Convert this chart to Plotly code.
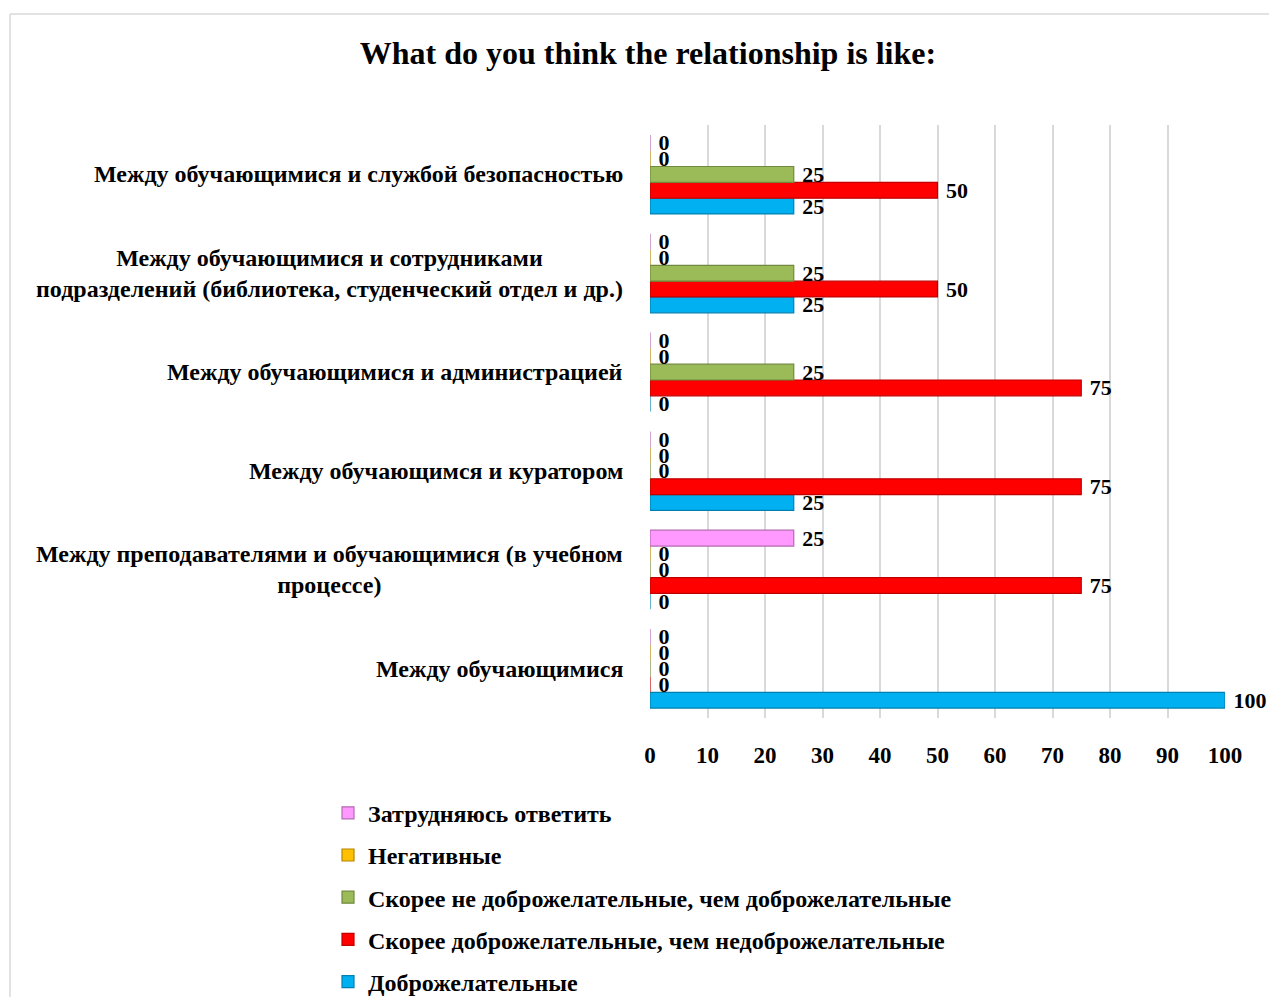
import plotly.graph_objects as go

categories = [
    "Между обучающимися",
    "Между преподавателями и обучающимися (в учебном<br>процессе)",
    "Между обучающимся и куратором",
    "Между обучающимися и администрацией",
    "Между обучающимися и сотрудниками<br>подразделений (библиотека, студенческий отдел и др.)",
    "Между обучающимися и службой безопасностью",
]

series_names = [
    "Доброжелательные",
    "Скорее доброжелательные, чем недоброжелательные",
    "Скорее не доброжелательные, чем доброжелательные",
    "Негативные",
    "Затрудняюсь ответить",
]

dobro = [100, 0, 25, 0, 25, 25]
skoree_dobro = [0, 75, 75, 75, 50, 50]
skoree_ne = [0, 0, 0, 25, 25, 25]
negativ = [0, 0, 0, 0, 0, 0]
zatrud = [0, 25, 0, 0, 0, 0]

colors = ["#00B0F0", "#FF0000", "#9BBB59", "#FFC000", "#FF99FF"]
edge_colors = ["#0080B0", "#C00000", "#71893F", "#B38600", "#B36BB3"]

FONT = "Times New Roman, Liberation Serif, serif"

fig = go.Figure()
for i, (name, vals, c, ec) in enumerate(zip(series_names, [dobro, skoree_dobro, skoree_ne, negativ, zatrud], colors, edge_colors)):
    fig.add_trace(go.Bar(
        y=categories, x=vals, name=name, orientation="h",
        marker=dict(color=c, line=dict(color=ec, width=1.2)),
        texttemplate="\u00a0%{x}", textposition="outside", constraintext="none",
        textfont=dict(family=FONT, size=22, color="black", weight="bold"),
        cliponaxis=False, legendgroup=name, legendrank=5 - i,
    ))

fig.update_layout(
    width=1261, height=989,
    paper_bgcolor="white", plot_bgcolor="white",
    barmode="group", bargap=0.2, bargroupgap=0,
    margin=dict(l=642, r=44, t=117, b=279, autoexpand=False),
    title=dict(text="What do you think the relationship is like:", x=0.5075, xanchor="center",
               y=0.9545, yanchor="middle",
               font=dict(family=FONT, size=32, color="black", weight="bold")),
    xaxis=dict(range=[0, 100], dtick=10, showgrid=True, gridcolor="#D9D9D9", gridwidth=2,
               zeroline=False, tickfont=dict(family=FONT, size=23, color="black", weight="bold"),
               ticks="", ticklabelstandoff=21),
    yaxis=dict(showticklabels=False, ticks="", showgrid=False),
    legend=dict(orientation="v", traceorder="grouped", tracegroupgap=8,
                x=-0.56, xanchor="left", y=-0.1226, yanchor="top",
                font=dict(family=FONT, size=24, color="black", weight="bold")),
    showlegend=True,
)

for cat in categories:
    fig.add_annotation(text=cat, xref="paper", yref="y", x=-0.0435, y=cat,
                       xanchor="right", yanchor="middle", align="center", showarrow=False,
                       font=dict(family=FONT, size=24, color="black", weight="bold"))

fig.add_shape(type="line", xref="paper", yref="paper", x0=-1.113, x1=1.1, y0=1.187, y1=1.187,
              line=dict(color="#D9D9D9", width=1.5))
fig.add_shape(type="line", xref="paper", yref="paper", x0=-1.113, x1=-1.113, y0=1.187, y1=-0.5,
              line=dict(color="#D9D9D9", width=1.5))

fig.write_html("out.html")
